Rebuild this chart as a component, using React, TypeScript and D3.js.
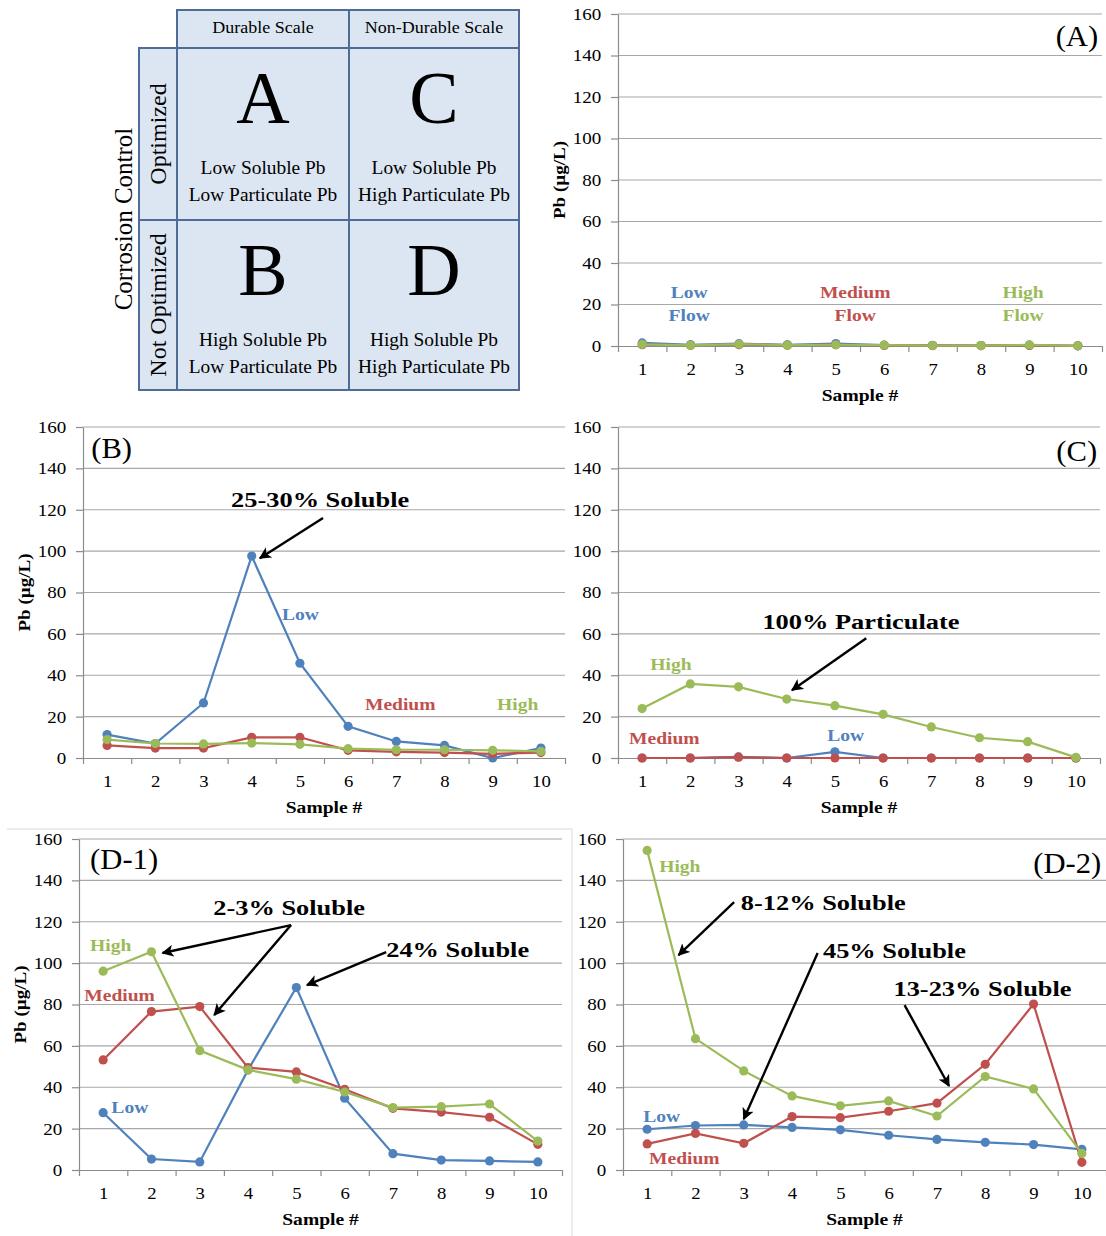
import React, { useEffect, useRef } from 'react';
import * as d3 from 'd3';

const samples = [1, 2, 3, 4, 5, 6, 7, 8, 9, 10];
const yTicks = [0, 20, 40, 60, 80, 100, 120, 140, 160];
const xBounds = [0.5, 1.5, 2.5, 3.5, 4.5, 5.5, 6.5, 7.5, 8.5, 9.5, 10.5];

// (A) durable scale, optimized
const aLow = [1.5, 0.6, 1.1, 0.6, 1.2, 0.4, 0.3, 0.2, 0.4, 0.1];
const aMedium = [0.6, 0.4, 0.6, 0.4, 0.6, 0.3, 0.2, 0.2, 0.3, 0.1];
const aHigh = [0.8, 0.3, 0.9, 0.4, 0.6, 0.4, 0.2, 0.2, 0.5, 0.1];
// (B)
const bLow = [11.3, 7, 26.6, 97.6, 45.8, 15.3, 8, 6.1, 0, 4.8];
const bMedium = [6.1, 4.8, 4.8, 10, 10, 3.7, 3, 2.6, 2, 2.6];
const bHigh = [8.9, 7, 6.8, 7.2, 6.6, 4.5, 4, 4, 3.7, 3.2];
// (C)
const cLow = [0, 0, 0.5, 0, 3, 0, 0, 0, 0, 0];
const cMedium = [0, 0, 0.4, 0, 0, 0, 0, 0, 0, 0];
const cHigh = [23.9, 35.8, 34.4, 28.5, 25.3, 21.1, 15, 9.8, 7.9, 0.3];
// (D-1)
const d1Low = [27.7, 5.3, 3.9, 48.4, 88.2, 34.7, 7.9, 4.8, 4.4, 3.9];
const d1Medium = [53.2, 76.6, 79, 49.5, 47.4, 39, 29.8, 28, 25.5, 12.4];
const d1High = [96.1, 105.5, 57.7, 48.4, 43.9, 37.7, 30.2, 30.6, 31.9, 14];
// (D-2)
const d2Low = [19.7, 21.5, 21.8, 20.6, 19.4, 16.8, 14.8, 13.4, 12.3, 10];
const d2Medium = [12.6, 17.7, 12.9, 25.8, 25.3, 28.4, 32.3, 51.1, 80.2, 3.7];
const d2High = [154.5, 63.5, 47.9, 35.8, 31, 33.4, 26.1, 45.2, 39.2, 8];

// matrix text
const scaleHeaders = ['Durable Scale', 'Non-Durable Scale'];
const controlRows = ['Optimized', 'Not Optimized'];
const cellLetters = [['A', 'C'], ['B', 'D']];
const cellLines = [
  [['Low Soluble Pb', 'Low Particulate Pb'], ['Low Soluble Pb', 'High Particulate Pb']],
  [['High Soluble Pb', 'Low Particulate Pb'], ['High Soluble Pb', 'High Particulate Pb']],
];

const BLUE = '#4f81bd';
const RED = '#c0504d';
const GREEN = '#9bbb59';
const SERIF = "'Liberation Serif', 'Times New Roman', serif";

const series = (low, medium, high) => [
  { name: 'Low', color: BLUE, values: low },
  { name: 'Medium', color: RED, values: medium },
  { name: 'High', color: GREEN, values: high },
];

const panels = [
  {
    left: 618, right: 1102, top: 14, bottom: 346, yTitle: true,
    series: series(aLow, aMedium, aHigh),
    tag: { text: '(A)', x: 10.42, y: 144.5, anchor: 'end' },
    labels: [
      { text: 'Low', x: 1.97, y: 23.1, color: BLUE, anchor: 'middle' },
      { text: 'Flow', x: 1.97, y: 12, color: BLUE, anchor: 'middle' },
      { text: 'Medium', x: 5.4, y: 23.1, color: RED, anchor: 'middle' },
      { text: 'Flow', x: 5.4, y: 12, color: RED, anchor: 'middle' },
      { text: 'High', x: 8.87, y: 23.1, color: GREEN, anchor: 'middle' },
      { text: 'Flow', x: 8.87, y: 12, color: GREEN, anchor: 'middle' },
    ],
    notes: [],
    arrows: [],
  },
  {
    left: 83, right: 565, top: 427, bottom: 758, yTitle: true,
    series: series(bLow, bMedium, bHigh),
    tag: { text: '(B)', x: 0.67, y: 145, anchor: 'start' },
    labels: [
      { text: 'Low', x: 4.63, y: 66.6, color: BLUE, anchor: 'start' },
      { text: 'Medium', x: 6.35, y: 23.1, color: RED, anchor: 'start' },
      { text: 'High', x: 9.09, y: 23.1, color: GREEN, anchor: 'start' },
    ],
    notes: [{ text: '25-30% Soluble', x: 5.42, y: 121.3, anchor: 'middle' }],
    arrows: [{ x1: 5.48, y1: 116, x2: 4.17, y2: 96.6 }],
  },
  {
    left: 618, right: 1100, top: 427, bottom: 758, yTitle: false,
    series: series(cLow, cMedium, cHigh),
    tag: { text: '(C)', x: 10.44, y: 143.5, anchor: 'end' },
    labels: [
      { text: 'High', x: 1.17, y: 42.4, color: GREEN, anchor: 'start' },
      { text: 'Medium', x: 0.73, y: 6.6, color: RED, anchor: 'start' },
      { text: 'Low', x: 4.84, y: 8.1, color: BLUE, anchor: 'start' },
    ],
    notes: [{ text: '100% Particulate', x: 5.54, y: 62.3, anchor: 'middle' }],
    arrows: [{ x1: 5.65, y1: 57.9, x2: 4.11, y2: 32.8 }],
  },
  {
    left: 79, right: 562, top: 839, bottom: 1170, yTitle: true,
    series: series(d1Low, d1Medium, d1High),
    tag: { text: '(D-1)', x: 0.73, y: 145.5, anchor: 'start' },
    labels: [
      { text: 'High', x: 0.73, y: 105.8, color: GREEN, anchor: 'start' },
      { text: 'Medium', x: 0.61, y: 81.7, color: RED, anchor: 'start' },
      { text: 'Low', x: 1.17, y: 27.5, color: BLUE, anchor: 'start' },
    ],
    notes: [
      { text: '2-3% Soluble', x: 4.85, y: 123.2, anchor: 'middle' },
      { text: '24% Soluble', x: 6.86, y: 103, anchor: 'start' },
    ],
    arrows: [
      { x1: 4.89, y1: 118.4, x2: 2.23, y2: 104.9 },
      { x1: 4.89, y1: 118.4, x2: 3.3, y2: 74.9 },
      { x1: 6.86, y1: 105.3, x2: 5.22, y2: 89.4 },
    ],
  },
  {
    left: 623, right: 1106, top: 839, bottom: 1170, yTitle: false,
    series: series(d2Low, d2Medium, d2High),
    tag: { text: '(D-2)', x: 10.4, y: 143.5, anchor: 'end' },
    labels: [
      { text: 'High', x: 1.25, y: 144, color: GREEN, anchor: 'start' },
      { text: 'Low', x: 0.92, y: 23.2, color: BLUE, anchor: 'start' },
      { text: 'Medium', x: 1.04, y: 2.9, color: RED, anchor: 'start' },
    ],
    notes: [
      { text: '8-12% Soluble', x: 2.94, y: 125.7, anchor: 'start' },
      { text: '45% Soluble', x: 4.64, y: 102.5, anchor: 'start' },
      { text: '13-23% Soluble', x: 6.1, y: 84.1, anchor: 'start' },
    ],
    arrows: [
      { x1: 2.8, y1: 129.5, x2: 1.65, y2: 103.9 },
      { x1: 4.53, y1: 104.9, x2: 3.0, y2: 24.6 },
      { x1: 6.33, y1: 79.7, x2: 7.25, y2: 40.6 },
    ],
  },
];

// text that is a bit wider than the font, like the original figure
const wideText = (parent, x, y, text, { size, weight = 'normal', anchor = 'start', color = '#000', sx = 1.15, rotate = 0 }) => {
  parent.append('g')
    .attr('transform', `translate(${x},${y}) rotate(${rotate}) scale(${sx},1)`)
    .append('text')
    .attr('text-anchor', anchor)
    .attr('font-family', SERIF)
    .attr('font-size', size)
    .attr('font-weight', weight)
    .attr('fill', color)
    .text(text);
};

const drawPanel = (svg, p) => {
  const x = d3.scaleLinear().domain([0.5, 10.5]).range([p.left, p.right]);
  const y = d3.scaleLinear().domain([0, 160]).range([p.bottom, p.top]);
  const g = svg.append('g');

  g.selectAll('line.grid')
    .data(yTicks.slice(1))
    .enter().append('line')
    .attr('x1', p.left).attr('x2', p.right)
    .attr('y1', d => y(d)).attr('y2', d => y(d))
    .attr('stroke', '#a8a8a8').attr('stroke-width', 1.2);

  const yAxis = g.append('g')
    .attr('transform', `translate(${p.left},0)`)
    .call(d3.axisLeft(y).tickValues(yTicks).tickSize(7).tickPadding(8).tickSizeOuter(0));
  yAxis.select('.domain').attr('stroke', '#8c8c8c').attr('stroke-width', 1.2);
  yAxis.selectAll('.tick line').attr('stroke', '#8c8c8c').attr('stroke-width', 1.2);
  yAxis.selectAll('.tick text')
    .attr('font-family', SERIF).attr('font-size', 17).attr('fill', '#000')
    .attr('transform', 'scale(1.12,1)');

  const xTicks = g.append('g')
    .attr('transform', `translate(0,${p.bottom})`)
    .call(d3.axisBottom(x).tickValues(xBounds).tickSize(6).tickFormat(() => '').tickSizeOuter(0));
  xTicks.select('.domain').attr('stroke', '#8c8c8c').attr('stroke-width', 1.2);
  xTicks.selectAll('.tick line').attr('stroke', '#8c8c8c').attr('stroke-width', 1.2);

  const xLabels = g.append('g')
    .attr('transform', `translate(0,${p.bottom})`)
    .call(d3.axisBottom(x).tickValues(samples).tickSize(0).tickPadding(17));
  xLabels.select('.domain').remove();
  xLabels.selectAll('.tick text')
    .attr('font-family', SERIF).attr('font-size', 17).attr('fill', '#000')
    .attr('transform', 'scale(1.1,1)');

  wideText(g, (p.left + p.right) / 2, p.bottom + 55, 'Sample #', { size: 17, weight: 'bold', anchor: 'middle' });
  if (p.yTitle) {
    wideText(g, p.left - 53, (p.top + p.bottom) / 2, 'Pb (µg/L)', { size: 17, weight: 'bold', anchor: 'middle', rotate: -90, sx: 1.12 });
  }

  const line = d3.line().x((d, i) => x(samples[i])).y(d => y(d));
  p.series.forEach(s => {
    g.append('path')
      .attr('d', line(s.values))
      .attr('fill', 'none')
      .attr('stroke', s.color)
      .attr('stroke-width', 2.2);
    g.selectAll(null)
      .data(s.values)
      .enter().append('circle')
      .attr('cx', (d, i) => x(samples[i]))
      .attr('cy', d => y(d))
      .attr('r', 4.6)
      .attr('fill', s.color);
  });

  wideText(g, x(p.tag.x), y(p.tag.y), p.tag.text, { size: 30, anchor: p.tag.anchor, sx: 1.02 });
  p.labels.forEach(l => {
    wideText(g, x(l.x), y(l.y), l.text, { size: 17, weight: 'bold', anchor: l.anchor, color: l.color });
  });
  p.notes.forEach(n => {
    wideText(g, x(n.x), y(n.y), n.text, { size: 22, weight: 'bold', anchor: n.anchor, sx: 1.2 });
  });
  p.arrows.forEach(a => {
    g.append('line')
      .attr('x1', x(a.x1)).attr('y1', y(a.y1))
      .attr('x2', x(a.x2)).attr('y2', y(a.y2))
      .attr('stroke', '#000').attr('stroke-width', 2.4)
      .attr('marker-end', 'url(#arrowhead)');
  });
};

const drawMatrix = (svg) => {
  const colX = [177, 349, 519];
  const rowY = [48, 220, 390];
  const headTop = 10;
  const sideLeft = 139;
  const border = '#4d6d96';
  const fill = '#dce6f2';
  const g = svg.append('g');

  scaleHeaders.forEach((h, i) => {
    g.append('rect').attr('x', colX[i]).attr('y', headTop)
      .attr('width', colX[i + 1] - colX[i]).attr('height', rowY[0] - headTop)
      .attr('fill', fill).attr('stroke', border).attr('stroke-width', 2);
    wideText(g, (colX[i] + colX[i + 1]) / 2, 33, h, { size: 17, anchor: 'middle', sx: 1.06 });
  });

  controlRows.forEach((r, j) => {
    g.append('rect').attr('x', sideLeft).attr('y', rowY[j])
      .attr('width', colX[0] - sideLeft).attr('height', rowY[j + 1] - rowY[j])
      .attr('fill', fill).attr('stroke', border).attr('stroke-width', 2);
    wideText(g, 166, (rowY[j] + rowY[j + 1]) / 2, r, { size: 24, anchor: 'middle', rotate: -90, sx: 1 });
  });

  wideText(g, 132, (rowY[0] + rowY[2]) / 2, 'Corrosion Control', { size: 25, anchor: 'middle', rotate: -90, sx: 1 });

  cellLetters.forEach((row, j) => {
    row.forEach((letter, i) => {
      const cx = (colX[i] + colX[i + 1]) / 2;
      g.append('rect').attr('x', colX[i]).attr('y', rowY[j])
        .attr('width', colX[i + 1] - colX[i]).attr('height', rowY[j + 1] - rowY[j])
        .attr('fill', fill).attr('stroke', border).attr('stroke-width', 2);
      wideText(g, cx, rowY[j] + 75, letter, { size: 74, anchor: 'middle', sx: 1 });
      cellLines[j][i].forEach((t, k) => {
        wideText(g, cx, rowY[j] + 126 + k * 27, t, { size: 19, anchor: 'middle', sx: 1.02 });
      });
    });
  });
};

const App = () => {
  const svgRef = useRef();

  useEffect(() => {
    const svg = d3.select(svgRef.current);
    svg.selectAll('*').remove();

    svg.append('defs').append('marker')
      .attr('id', 'arrowhead')
      .attr('viewBox', '0 0 10 10')
      .attr('refX', 9).attr('refY', 5)
      .attr('markerWidth', 5).attr('markerHeight', 5)
      .attr('orient', 'auto')
      .append('path')
      .attr('d', 'M0,0 L10,5 L0,10 L2.5,5 z')
      .attr('fill', '#000');

    svg.append('rect').attr('width', 1106).attr('height', 1236).attr('fill', '#fff');

    // faint separators around the bottom panels
    svg.append('line').attr('x1', 7).attr('x2', 572).attr('y1', 829).attr('y2', 829)
      .attr('stroke', '#e4e4e4').attr('stroke-width', 1.5);
    svg.append('line').attr('x1', 572).attr('x2', 572).attr('y1', 829).attr('y2', 1236)
      .attr('stroke', '#e4e4e4').attr('stroke-width', 1.5);

    drawMatrix(svg);
    panels.forEach(p => drawPanel(svg, p));
  }, []);

  return (
    <svg
      ref={svgRef}
      width={1106}
      height={1236}
      style={{ position: 'absolute', left: 0, top: 0 }}
    />
  );
};

export default App;
